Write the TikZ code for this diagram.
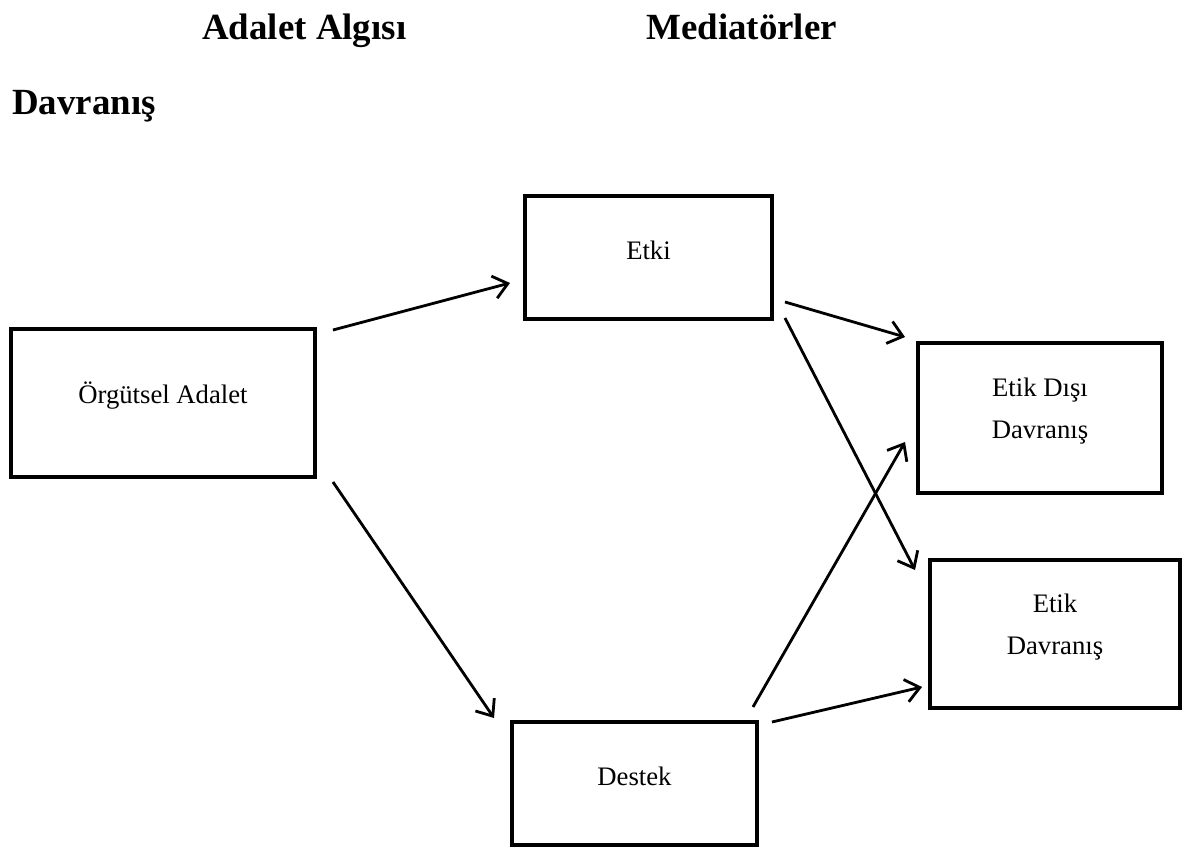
\documentclass[tikz,border=0pt]{standalone}
\usepackage{fontspec}
\setmainfont{Liberation Serif}
\usepackage{tikz}
\usetikzlibrary{arrows.meta, calc}

\begin{document}
\begin{tikzpicture}[
        x=0.02cm, y=-0.02cm,
        block/.style={rectangle, draw=black, line width=2pt, outer sep=0pt, inner sep=0pt},
        boxtext/.style={align=center, yshift=0.14cm, font=\fontsize{15.2}{23.9}\selectfont},
        heading/.style={anchor=base west, inner sep=0pt, font=\fontsize{21}{25}\selectfont\bfseries},
        arrow/.style={-{Straight Barb[length=8pt, width=13pt]}, line width=1.6pt}
    ]
        \useasboundingbox (0,0) rectangle (1187,851);

        % Headings
        \node[heading] (hdrjustice) at (202,40) {Adalet Algısı};
        \node[heading] (hdrmediator) at (646,40) {Mediatörler};
        \node[heading] (hdrbehavior) at (12,115) {Davranış};

        % Justice
        \node[block, minimum width=6.08cm, minimum height=2.96cm, label={[boxtext]center:Örgütsel Adalet}] (org) at (163,403) {};

        % Mediators
        \node[block, minimum width=4.94cm, minimum height=2.46cm, label={[boxtext]center:Etki}] (etki) at (648.5,257.5) {};
        \node[block, minimum width=4.90cm, minimum height=2.46cm, label={[boxtext]center:Destek}] (destek) at (634.5,783.5) {};

        % Behaviour
        \node[block, minimum width=4.88cm, minimum height=3.00cm, label={[boxtext]center:{Etik Dışı\\Davranış}}] (unethical) at (1040,418) {};
        \node[block, minimum width=5.00cm, minimum height=2.96cm, label={[boxtext]center:{Etik\\Davranış}}] (ethical) at (1055,634) {};

        % Arrows
        \draw[arrow] ([shift={(18,1)}]org.north east) -- ([shift={(-15,-36)}]etki.south west);
        \draw[arrow] ([shift={(18,5)}]org.south east) -- ([shift={(-18,-4)}]destek.north west);
        \draw[arrow] ([shift={(13,-17)}]etki.south east) -- ([shift={(-13,-6)}]unethical.north west);
        \draw[arrow] ([shift={(13,-1)}]etki.south east) -- ([shift={(-15,10)}]ethical.north west);
        \draw[arrow] ([shift={(-4,-15)}]destek.north east) -- ([shift={(-13,-51)}]unethical.south west);
        \draw[arrow] ([shift={(15,0)}]destek.north east) -- ([shift={(-8,-21)}]ethical.south west);
    \end{tikzpicture}
\end{document}
